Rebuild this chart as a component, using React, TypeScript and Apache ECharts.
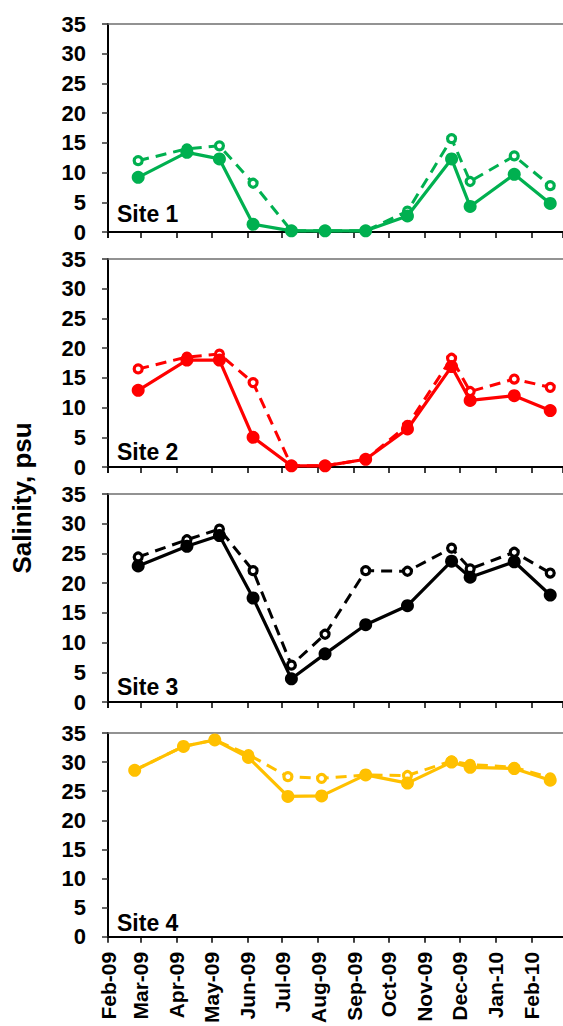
import React, { useEffect, useRef } from "react";
import * as echarts from "echarts";

// Sampling dates (sites 1-3 share a schedule, site 4 was sampled a few days earlier in spring)
const sampleDates = [
  "2009-02-27", "2009-04-10", "2009-05-08", "2009-06-06", "2009-07-09", "2009-08-07",
  "2009-09-11", "2009-10-17", "2009-11-24", "2009-12-10", "2010-01-17", "2010-02-17",
];
const site4Dates = [
  "2009-02-24", "2009-04-07", "2009-05-04", "2009-06-02", "2009-07-06", "2009-08-04",
  "2009-09-11", "2009-10-17", "2009-11-24", "2009-12-10", "2010-01-17", "2010-02-17",
];

// Salinity (psu): solid = surface, dashed = bottom
const site1Solid = [9.2, 13.4, 12.3, 1.3, 0.2, 0.2, 0.2, 2.7, 12.3, 4.3, 9.7, 4.8];
const site1Dashed = [12.0, 14.0, 14.5, 8.2, 0.2, 0.2, 0.2, 3.5, 15.7, 8.5, 12.8, 7.8];
const site2Solid = [12.9, 18.0, 18.0, 5.0, 0.2, 0.2, 1.3, 6.4, 16.9, 11.2, 12.0, 9.5];
const site2Dashed = [16.5, 18.5, 19.0, 14.2, 0.2, 0.2, 1.3, 7.0, 18.3, 12.7, 14.8, 13.4];
const site3Solid = [22.9, 26.2, 28.0, 17.5, 3.9, 8.1, 13.0, 16.2, 23.7, 21.0, 23.6, 18.0];
const site3Dashed = [24.4, 27.3, 29.1, 22.1, 6.2, 11.4, 22.1, 22.0, 25.9, 22.4, 25.2, 21.7];
const site4Solid = [28.6, 32.7, 33.8, 30.8, 24.1, 24.2, 27.8, 26.4, 30.0, 29.1, 28.9, 26.9];
const site4Dashed = [28.6, 32.7, 33.8, 31.3, 27.5, 27.2, 27.8, 27.7, 30.2, 29.6, 29.1, 27.3];

const siteNames = ["Site 1", "Site 2", "Site 3", "Site 4"];
const siteColors = ["#00B050", "#FF0000", "#000000", "#FFC000"];
const monthAbbr = ["Jan", "Feb", "Mar", "Apr", "May", "Jun", "Jul", "Aug", "Sep", "Oct", "Nov", "Dec"];
const yTickMin = 0;
const yTickMax = 35;
const yTickStep = 5;
const axisStart = "2009-02-01";
const axisEnd = "2010-02-28";

const FONT = '"Liberation Sans", Arial, sans-serif';

export default function App() {
  const ref = useRef<HTMLDivElement>(null);

  useEffect(() => {
    if (!ref.current) return;
    const chart = echarts.init(ref.current, undefined, { renderer: "svg" });

    const sites = [
      { dates: sampleDates, solid: site1Solid, dashed: site1Dashed },
      { dates: sampleDates, solid: site2Solid, dashed: site2Dashed },
      { dates: sampleDates, solid: site3Solid, dashed: site3Dashed },
      { dates: site4Dates, solid: site4Solid, dashed: site4Dashed },
    ];

    const gridTops = [24, 259, 494, 733];
    const gridHeight = 208;
    const gridLeft = 108;
    const gridWidth = 455;
    const labelOffsets = [17.6, 15.4, 14.6, 18];
    const DAY = 86400000;

    const fmtMonth = (v: number) => {
      const d = new Date(v);
      return `${monthAbbr[d.getMonth()]}-${String(d.getFullYear()).slice(2)}`;
    };

    const grid: any[] = [];
    const xAxis: any[] = [];
    const yAxis: any[] = [];
    const series: any[] = [];
    const graphic: any[] = [];

    sites.forEach((s, i) => {
      grid.push({ left: gridLeft, top: gridTops[i], width: gridWidth, height: gridHeight });
      const isLast = i === sites.length - 1;
      // bottom time axis
      xAxis.push({
        type: "time",
        gridIndex: i,
        position: "bottom",
        min: axisStart,
        max: axisEnd,
        splitNumber: 13,
        minInterval: 28 * DAY,
        maxInterval: 31 * DAY,
        axisLine: { show: true, onZero: false, lineStyle: { color: "#000", width: 2 } },
        axisTick: { show: true, inside: false, length: 6, lineStyle: { color: "#000", width: 1.5 } },
        axisLabel: {
          show: isLast,
          rotate: 90,
          margin: 15,
          color: "#000",
          fontFamily: FONT,
          fontWeight: "bold",
          fontSize: 21,
          showMinLabel: true,
          hideOverlap: false,
          formatter: (v: number) => fmtMonth(v),
        },
        splitLine: { show: false },
      });
      // top frame line
      xAxis.push({
        type: "time",
        gridIndex: i,
        position: "top",
        min: axisStart,
        max: axisEnd,
        axisLine: { show: true, onZero: false, lineStyle: { color: "#6f6f6f", width: 1.5 } },
        axisTick: { show: false },
        axisLabel: { show: false },
        splitLine: { show: false },
      });
      yAxis.push({
        type: "value",
        gridIndex: i,
        min: yTickMin,
        max: yTickMax,
        interval: yTickStep,
        axisLine: { show: true, lineStyle: { color: "#000", width: 2 } },
        axisTick: { show: true, length: 6, lineStyle: { color: "#333", width: 1.5 } },
        axisLabel: {
          margin: 22,
          color: "#000",
          fontFamily: FONT,
          fontWeight: "bold",
          fontSize: 22,
        },
        splitLine: { show: false },
      });

      const color = siteColors[i];
      series.push({
        type: "line",
        name: `${siteNames[i]} bottom`,
        xAxisIndex: i * 2,
        yAxisIndex: i,
        data: s.dates.map((d, j) => [d, s.dashed[j]]),
        symbol: "circle",
        symbolSize: 8,
        lineStyle: { color, width: 3, type: [11, 7] },
        itemStyle: { color: "#fff", borderColor: color, borderWidth: 3.2 },
        clip: false,
        z: 2,
      });
      series.push({
        type: "line",
        name: `${siteNames[i]} surface`,
        xAxisIndex: i * 2,
        yAxisIndex: i,
        data: s.dates.map((d, j) => [d, s.solid[j]]),
        symbol: "circle",
        symbolSize: 13,
        lineStyle: { color, width: 3.2, type: "solid" },
        itemStyle: { color, borderWidth: 0 },
        clip: false,
        z: 3,
      });

      graphic.push({
        type: "text",
        x: 117,
        y: gridTops[i] + gridHeight - labelOffsets[i],
        style: {
          text: siteNames[i],
          font: `bold 23px ${FONT}`,
          fill: "#000",
          align: "left",
          verticalAlign: "middle",
        },
      });
    });

    graphic.push({
      type: "text",
      x: 22,
      y: 498,
      rotation: Math.PI / 2,
      style: {
        text: "Salinity, psu",
        font: `bold 26px ${FONT}`,
        fill: "#000",
        align: "center",
        verticalAlign: "middle",
      },
    });

    chart.setOption({
      animation: false,
      backgroundColor: "#fff",
      grid,
      xAxis,
      yAxis,
      series,
      graphic,
    });

    return () => chart.dispose();
  }, []);

  return (
    <div
      ref={ref}
      style={{ position: "absolute", left: 0, top: 0, width: 563, height: 1026 }}
    />
  );
}
